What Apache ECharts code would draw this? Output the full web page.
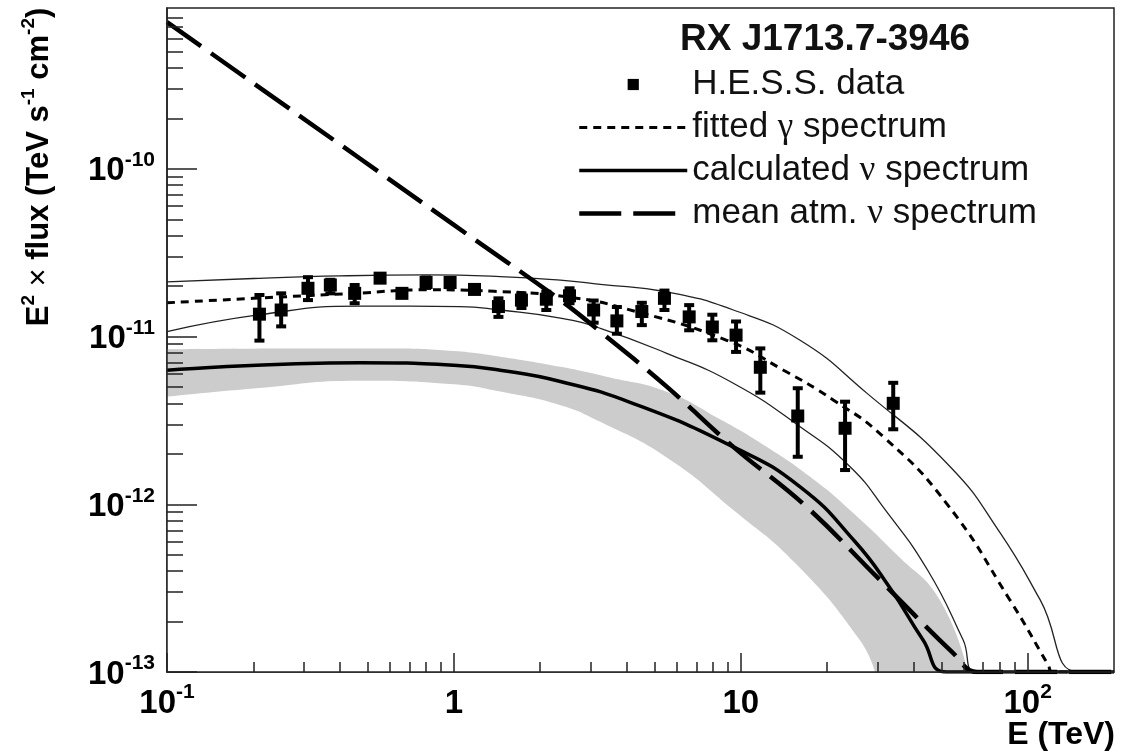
<!DOCTYPE html>
<html><head><meta charset="utf-8">
<script src="https://cdn.jsdelivr.net/npm/echarts@6/dist/echarts.min.js"></script>
<style>html,body{margin:0;padding:0;background:#fff}#c{width:1128px;height:753px}</style>
</head><body><div id="c"></div><script>
const FONT = '"Liberation Sans", Arial, Helvetica, sans-serif';

// ---- axes ----
const xRange = [0.1, 200];
const yRange = [1e-13, 9.1e-10];
const xMajorTicks = [0.1, 1, 10, 100];
const xTickLabels = ['{b|10}{s|-1}', '{b|1}', '{b|10}', '{b|10}{s|2}'];
const xMinorTicks = [0.2,0.3,0.4,0.5,0.6,0.7,0.8,0.9, 2,3,4,5,6,7,8,9, 20,30,40,50,60,70,80,90];
const yMajorTicks = [1e-13, 1e-12, 1e-11, 1e-10];
const yTickLabels = ['{b|10}{s|-13}', '{b|10}{s|-12}', '{b|10}{s|-11}', '{b|10}{s|-10}'];
const yMinorTicks = [2e-13,3e-13,4e-13,5e-13,6e-13,7e-13,8e-13,9e-13,
  2e-12,3e-12,4e-12,5e-12,6e-12,7e-12,8e-12,9e-12,
  2e-11,3e-11,4e-11,5e-11,6e-11,7e-11,8e-11,9e-11,
  2e-10,3e-10,4e-10,5e-10,6e-10,7e-10,8e-10];

// ---- H.E.S.S. data ----
const hessE  = [0.21,0.25,0.31,0.371,0.451,0.553,0.659,0.80,0.97,1.18,1.43,1.72,2.10,2.53,3.07,3.70,4.52,5.42,6.61,7.96,9.63,11.7,15.8,23.1,34.0];
const hessF  = [1.36e-11,1.44e-11,1.94e-11,2.03e-11,1.81e-11,2.23e-11,1.81e-11,2.10e-11,2.10e-11,1.91e-11,1.51e-11,1.65e-11,1.67e-11,1.75e-11,1.44e-11,1.24e-11,1.41e-11,1.69e-11,1.31e-11,1.14e-11,1.02e-11,6.56e-12,3.36e-12,2.84e-12,4.0e-12];
const hessHi = [1.77e-11,1.81e-11,2.26e-11,2.18e-11,2.03e-11,2.33e-11,1.90e-11,2.25e-11,2.22e-11,2.00e-11,1.69e-11,1.81e-11,1.85e-11,1.94e-11,1.64e-11,1.50e-11,1.59e-11,1.88e-11,1.54e-11,1.35e-11,1.23e-11,8.5e-12,4.92e-12,4.09e-12,5.3e-12];
const hessLo = [9.46e-12,1.15e-11,1.65e-11,1.81e-11,1.58e-11,2.13e-11,1.72e-11,1.95e-11,1.97e-11,1.82e-11,1.31e-11,1.48e-11,1.44e-11,1.58e-11,1.21e-11,1.04e-11,1.17e-11,1.44e-11,1.09e-11,9.5e-12,8.1e-12,4.63e-12,1.92e-12,1.60e-12,2.8e-12];

// ---- fitted gamma spectrum (dotted) ----
const fitE = [0.1,0.2,0.45,0.8,1.38,2.5,4.0,8.93,14.1,21.0,31.4,52.2,86.7,118,122,200];
const fitF = [1.59e-11,1.69e-11,1.81e-11,1.90e-11,1.86e-11,1.72e-11,1.46e-11,9.5e-12,6.3e-12,4.19e-12,2.53e-12,1.01e-12,2.69e-13,1.1e-13,1e-13,1e-13];
// ---- fit error envelope (thin lines) ----
const fitHiE = [0.1,0.2,0.4,0.8,1.45,2.35,3.24,5.5,9.42,16.1,27.5,53.6,80,110.6,150,200];
const fitHiF = [2.12e-11,2.22e-11,2.30e-11,2.33e-11,2.28e-11,2.17e-11,2.05e-11,1.85e-11,1.44e-11,9.5e-12,4.6e-12,1.68e-12,6.8e-13,2.69e-13,1e-13,1e-13];
const fitLoE = [0.1,0.211,0.47,1.05,1.45,2.35,3.24,5.52,9.42,16.1,24.0,31.9,45,59.6,66.4,200];
const fitLoF = [1.07e-11,1.35e-11,1.52e-11,1.51e-11,1.44e-11,1.29e-11,1.12e-11,7.95e-12,5.27e-12,2.9e-12,1.68e-12,9.25e-13,4.0e-13,1.55e-13,1e-13,1e-13];

// ---- calculated neutrino spectrum (solid) ----
const nuE = [0.1,0.47,1.0,1.45,2.35,4.2,9.42,16.1,25,33,43.2,52.2,200];
const nuF = [6.3e-12,6.99e-12,6.75e-12,6.3e-12,5.4e-12,4.0e-12,2.2e-12,1.27e-12,6.0e-13,3.2e-13,1.55e-13,1e-13,1e-13];
// ---- uncertainty band of neutrino spectrum: upper and lower edges ----
const bandUpE = [0.1,0.3,0.6,1.0,1.45,2.35,3.5,5.52,8.5,12.3,18,24,35,49.4,61.9];
const bandUpF = [8.4e-12,8.5e-12,8.5e-12,8.2e-12,7.59e-12,6.6e-12,5.7e-12,4.69e-12,3.2e-12,2.2e-12,1.4e-12,9.25e-13,5.0e-13,2.69e-13,1e-13];
const bandLoE = [0.1,0.2,0.47,1.0,1.45,2.35,3.24,5.52,9.42,15.6,26.0,29.4];
const bandLoF = [4.38e-12,4.9e-12,5.46e-12,5.2e-12,4.7e-12,3.9e-12,3.1e-12,1.9e-12,9.25e-13,4.4e-13,1.55e-13,1e-13];

// ---- mean atmospheric neutrino spectrum (dashed) ----
const atmE = [0.1,1.0,2.35,3.24,5.52,9.42,16.9,30,54.9,66.5,200];
const atmF = [7.5e-10,4.63e-11,1.65e-11,1.07e-11,5.03e-12,2.2e-12,9.7e-13,3.65e-13,1.3e-13,1e-13,1e-13];

const zip = (a, b) => a.map((v, i) => [v, b[i]]);
const nearestIdx = (arr, v) => {
  let best = 0, bd = Infinity;
  arr.forEach((t, i) => { const d = Math.abs(Math.log10(t) - Math.log10(v)); if (d < bd) { bd = d; best = i; } });
  return best;
};
const AX = '#222';
const tickRich = {
  b: { fontSize: 33, fontWeight: 'bold', fontFamily: FONT, color: '#000', lineHeight: 38, verticalAlign: 'bottom' },
  s: { fontSize: 21, fontWeight: 'bold', fontFamily: FONT, color: '#000', lineHeight: 38, verticalAlign: 'top' }
};

const chart = echarts.init(document.getElementById('c'), null, { renderer: 'canvas' });
chart.setOption({
  backgroundColor: '#fff',
  animation: false,
  grid: { left: 167, right: 14, top: 8, bottom: 81, show: true, borderColor: AX, borderWidth: 1.5, backgroundColor: 'transparent' },
  title: {
    text: 'RX J1713.7-3946', left: 675, top: 16,
    textStyle: { fontSize: 37, fontWeight: 'bold', fontFamily: FONT, color: '#111' }
  },
  legend: {
    orient: 'vertical', left: 572, top: 62, itemWidth: 108, itemHeight: 14, itemGap: 8,
    selectedMode: false,
    textStyle: { fontSize: 35, fontFamily: FONT, color: '#111', lineHeight: 35,
      rich: { t: { fontSize: 35, fontFamily: FONT, color: '#111', lineHeight: 35 },
              g: { fontSize: 35, fontFamily: '"Liberation Serif", "DejaVu Serif", serif', color: '#111', lineHeight: 35 } } },
    formatter: n => n.replace(/([γν])/, '}{g|$1}{t|').replace(/^/, '{t|') + '}',
    data: [
      { name: 'H.E.S.S. data' },
      { name: 'fitted γ spectrum', lineStyle: { width: 3 } },
      { name: 'calculated ν spectrum', lineStyle: { width: 3.5 } },
      { name: 'mean atm. ν spectrum', lineStyle: { width: 4.5 } }
    ]
  },
  graphic: [
    { type: 'text', x: 37, y: 167, rotation: Math.PI / 2,
      style: { text: '{b|E}{s|2}{m| × }{b|flux (TeV s}{s|-1}{b| cm}{s|-2}{b|)}', align: 'center', verticalAlign: 'middle',
        rich: {
          b: { fontSize: 31, fontWeight: 'bold', fontFamily: FONT, fill: '#000', lineHeight: 35, verticalAlign: 'bottom' },
          s: { fontSize: 19, fontWeight: 'bold', fontFamily: FONT, fill: '#000', lineHeight: 35, verticalAlign: 'top' },
          m: { fontSize: 31, fontFamily: FONT, fill: '#000', lineHeight: 35, verticalAlign: 'bottom' }
        } } },
    { type: 'text', right: 13, top: 719,
      style: { text: 'E (TeV)', font: 'bold 32px ' + FONT, fill: '#000' } }
  ],
  xAxis: [
    { type: 'log', logBase: 10, min: xRange[0], max: xRange[1], position: 'bottom', z: 10,
      axisLine: { show: true, lineStyle: { color: AX, width: 1.5 } },
      axisTick: { show: true, inside: true, length: 19, customValues: xMajorTicks, lineStyle: { color: AX, width: 1.5 } },
      axisLabel: { show: true, customValues: xMajorTicks, margin: 10, rich: tickRich,
        formatter: v => xTickLabels[nearestIdx(xMajorTicks, v)] },
      splitLine: { show: false }, minorTick: { show: false } },
    { type: 'log', logBase: 10, min: xRange[0], max: xRange[1], position: 'bottom', z: 10,
      axisLine: { show: false },
      axisTick: { show: true, inside: true, length: 10, customValues: xMinorTicks, lineStyle: { color: AX, width: 1.5 } },
      axisLabel: { show: false }, splitLine: { show: false } }
  ],
  yAxis: [
    { type: 'log', logBase: 10, min: yRange[0], max: yRange[1], position: 'left', z: 10,
      axisLine: { show: true, lineStyle: { color: AX, width: 1.5 } },
      axisTick: { show: true, inside: true, length: 30, customValues: yMajorTicks, lineStyle: { color: AX, width: 1.5 } },
      axisLabel: { show: true, customValues: yMajorTicks, margin: 12, rich: tickRich,
        formatter: v => yTickLabels[nearestIdx(yMajorTicks, v)] },
      splitLine: { show: false } },
    { type: 'log', logBase: 10, min: yRange[0], max: yRange[1], position: 'left', z: 10,
      axisLine: { show: false },
      axisTick: { show: true, inside: true, length: 16, customValues: yMinorTicks, lineStyle: { color: AX, width: 1.5 } },
      axisLabel: { show: false }, splitLine: { show: false } }
  ],
  series: [
    // band: grey area under the upper edge, then white area under the lower edge
    { name: 'band upper', type: 'line', data: zip(bandUpE, bandUpF), symbol: 'none', smooth: 0.5, z: 1,
      lineStyle: { width: 0, opacity: 0 }, areaStyle: { color: '#cccccc', opacity: 1, origin: 'start' }, silent: true },
    { name: 'band lower', type: 'line', data: zip(bandLoE, bandLoF), symbol: 'none', smooth: 0.5, z: 1,
      lineStyle: { width: 0, opacity: 0 }, areaStyle: { color: '#ffffff', opacity: 1, origin: 'start' }, silent: true },
    { name: 'calculated ν spectrum', type: 'line', data: zip(nuE, nuF), symbol: 'none', smooth: 0.5, z: 3,
      lineStyle: { color: '#000', width: 3.5, type: 'solid' }, itemStyle: { color: '#000', opacity: 0 } },
    { name: 'fit upper', type: 'line', data: zip(fitHiE, fitHiF), symbol: 'none', smooth: 0.5, z: 3,
      lineStyle: { color: '#222', width: 1.3 }, itemStyle: { color: '#222' } },
    { name: 'fit lower', type: 'line', data: zip(fitLoE, fitLoF), symbol: 'none', smooth: 0.5, z: 3,
      lineStyle: { color: '#222', width: 1.3 }, itemStyle: { color: '#222' } },
    { name: 'fitted γ spectrum', type: 'line', data: zip(fitE, fitF), symbol: 'none', smooth: 0.5, z: 4,
      lineStyle: { color: '#000', width: 3, type: [8, 6] }, itemStyle: { color: '#000', opacity: 0 } },
    { name: 'mean atm. ν spectrum', type: 'line', data: zip(atmE, atmF), symbol: 'none', smooth: 0.4, z: 4,
      lineStyle: { color: '#000', width: 4.5, type: [42, 12] }, itemStyle: { color: '#000', opacity: 0 } },
    { name: 'errors', type: 'custom', z: 5,
      data: hessE.map((e, i) => [e, hessLo[i], hessHi[i]]),
      encode: { x: 0, y: [1, 2] },
      renderItem: (params, api) => {
        const e = api.value(0);
        const pl = api.coord([e, api.value(1)]), ph = api.coord([e, api.value(2)]);
        const w = 5, st = { stroke: '#000', lineWidth: 4 };
        return { type: 'group', children: [
          { type: 'line', shape: { x1: pl[0], y1: pl[1], x2: ph[0], y2: ph[1] }, style: st },
          { type: 'line', shape: { x1: pl[0] - w, y1: pl[1], x2: pl[0] + w, y2: pl[1] }, style: st },
          { type: 'line', shape: { x1: ph[0] - w, y1: ph[1], x2: ph[0] + w, y2: ph[1] }, style: st }
        ] };
      } },
    { name: 'H.E.S.S. data', type: 'line', data: zip(hessE, hessF), symbol: 'rect', symbolSize: 13, showSymbol: true, z: 6,
      lineStyle: { width: 0, opacity: 0 }, itemStyle: { color: '#000' } }
  ]
});
</script></body></html>
